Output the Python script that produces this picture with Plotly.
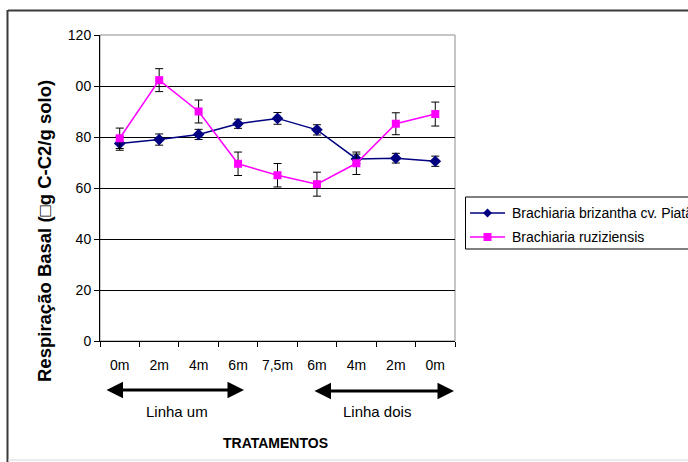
import plotly.graph_objects as go

categories = ["0m", "2m", "4m", "6m", "7,5m", "6m", "4m", "2m", "0m"]
brizantha = [77.5, 79.0, 81.0, 85.2, 87.3, 82.8, 71.4, 71.7, 70.5]
brizantha_err = [2.7, 2.2, 2.0, 1.8, 2.3, 2.0, 1.9, 1.9, 2.0]
ruziziensis = [79.5, 102.3, 90.0, 69.5, 65.0, 61.5, 69.7, 85.2, 89.0]
ruziziensis_err = [4.0, 4.5, 4.5, 4.6, 4.6, 4.7, 4.4, 4.3, 4.7]
y_ticks = [0, 20, 40, 60, 80, 100, 120]
y_ticktext = ["0", "20", "40", "60", "80", "00", "120"]
series_names = ["Brachiaria brizantha cv. Piatã", "Brachiaria ruziziensis"]
series_colors = ["#000080", "#FF00FF"]

x_idx = list(range(len(categories)))

W, H = 688, 462
L, R, T, B = 100, 455, 35, 341


def px_x(p):
    return (p - L) / (R - L)


def px_y(p):
    return (B - p) / (B - T)


FONT = "Liberation Sans, Arial"

fig = go.Figure()
fig.add_trace(go.Scatter(
    x=x_idx, y=brizantha, name=series_names[0], mode="lines+markers",
    line=dict(color=series_colors[0], width=1.5),
    marker=dict(symbol="diamond", size=9, color=series_colors[0]),
    error_y=dict(type="data", array=brizantha_err, visible=True,
                 color="black", thickness=1, width=4),
))
fig.add_trace(go.Scatter(
    x=x_idx, y=ruziziensis, name=series_names[1], mode="lines+markers",
    line=dict(color=series_colors[1], width=1.5),
    marker=dict(symbol="square", size=8, color=series_colors[1]),
    error_y=dict(type="data", array=ruziziensis_err, visible=True,
                 color="black", thickness=1, width=4),
))

shapes = [
    dict(type="rect", xref="paper", yref="paper", x0=0, x1=1, y0=0, y1=1,
         line=dict(color="#8c8c8c", width=1), layer="below"),
    dict(type="line", xref="paper", yref="paper", x0=px_x(8), x1=px_x(700),
         y0=px_y(10.5), y1=px_y(10.5), line=dict(color="#3a3a3a", width=2)),
    dict(type="line", xref="paper", yref="paper", x0=px_x(7.5), x1=px_x(7.5),
         y0=px_y(10), y1=px_y(470), line=dict(color="#3a3a3a", width=2)),
    dict(type="line", xref="paper", yref="paper", x0=px_x(8), x1=px_x(700),
         y0=px_y(460), y1=px_y(460), line=dict(color="#d8d8d8", width=1)),
    # legend box
    dict(type="rect", xref="paper", yref="paper", x0=px_x(465.5), x1=px_x(720),
         y0=px_y(249), y1=px_y(197), line=dict(color="black", width=1),
         fillcolor="white"),
]

# legend entries
row_y = [213, 237]
for i, name in enumerate(series_names):
    yy = row_y[i]
    shapes.append(dict(type="line", xref="paper", yref="paper",
                       x0=px_x(470), x1=px_x(505), y0=px_y(yy), y1=px_y(yy),
                       line=dict(color=series_colors[i], width=1.5)))
    cx = 487.5
    if i == 0:
        path = "M {},{} L {},{} L {},{} L {},{} Z".format(
            px_x(cx - 4.5), px_y(yy), px_x(cx), px_y(yy - 4.5),
            px_x(cx + 4.5), px_y(yy), px_x(cx), px_y(yy + 4.5))
        shapes.append(dict(type="path", xref="paper", yref="paper", path=path,
                           fillcolor=series_colors[i], line=dict(width=0)))
    else:
        shapes.append(dict(type="rect", xref="paper", yref="paper",
                           x0=px_x(cx - 4), x1=px_x(cx + 4),
                           y0=px_y(yy + 4), y1=px_y(yy - 4),
                           fillcolor=series_colors[i], line=dict(width=0)))

annotations = [
    dict(xref="x domain", yref="y domain", x=px_x(244), y=px_y(390),
         axref="x domain", ayref="y domain", ax=px_x(105), ay=px_y(390),
         text="", showarrow=True, arrowside="end+start", arrowhead=2,
         arrowsize=1.1, arrowwidth=3, arrowcolor="black"),
    dict(xref="x domain", yref="y domain", x=px_x(454), y=px_y(391),
         axref="x domain", ayref="y domain", ax=px_x(313), ay=px_y(391),
         text="", showarrow=True, arrowside="end+start", arrowhead=2,
         arrowsize=1.1, arrowwidth=3, arrowcolor="black"),
    dict(xref="paper", yref="paper", x=px_x(177), y=px_y(411), text="Linha um",
         xanchor="center", yanchor="middle",
         showarrow=False, font=dict(family=FONT, size=15, color="black")),
    dict(xref="paper", yref="paper", x=px_x(377), y=px_y(411), text="Linha dois",
         xanchor="center", yanchor="middle",
         showarrow=False, font=dict(family=FONT, size=15, color="black")),
    dict(xref="paper", yref="paper", x=px_x(275), y=px_y(443), text="<b>TRATAMENTOS</b>",
         xanchor="center", yanchor="middle",
         showarrow=False, font=dict(family=FONT, size=14, color="black")),
    dict(xref="paper", yref="paper", x=px_x(45), y=px_y(231),
         text="<b>Respiração Basal (□g C-C2/g solo)</b>", textangle=-90,
         xanchor="center", yanchor="middle",
         showarrow=False, font=dict(family=FONT, size=18.5, color="black")),
]
for i, name in enumerate(series_names):
    annotations.append(dict(xref="paper", yref="paper", x=px_x(510),
                            y=px_y(row_y[i]), xanchor="left", yanchor="middle",
                            text=name, showarrow=False,
                            font=dict(family=FONT, size=14, color="black")))

fig.update_layout(
    width=W, height=H,
    margin=dict(l=L, r=W - R, t=T, b=H - B),
    paper_bgcolor="white", plot_bgcolor="white",
    showlegend=False,
    shapes=shapes,
    annotations=annotations,
    xaxis=dict(range=[-0.5, len(categories) - 0.5], tickmode="array",
               tickvals=x_idx, ticktext=categories, ticks="",
               showgrid=False, zeroline=False, showline=True,
               linecolor="black", linewidth=1,
               tickfont=dict(family=FONT, size=14, color="black"),
               ticklabelstandoff=11,
               minor=dict(ticks="outside", tick0=-0.5, dtick=1, ticklen=5,
                          tickcolor="black", showgrid=False)),
    yaxis=dict(range=[0, 120], tickmode="array", tickvals=y_ticks,
               ticktext=y_ticktext, ticks="outside", ticklen=5,
               tickcolor="black", showgrid=True, gridcolor="black",
               gridwidth=1, zeroline=False, showline=True,
               linecolor="black", linewidth=1,
               tickfont=dict(family=FONT, size=14, color="black")),
)

fig.write_html("out.html")
